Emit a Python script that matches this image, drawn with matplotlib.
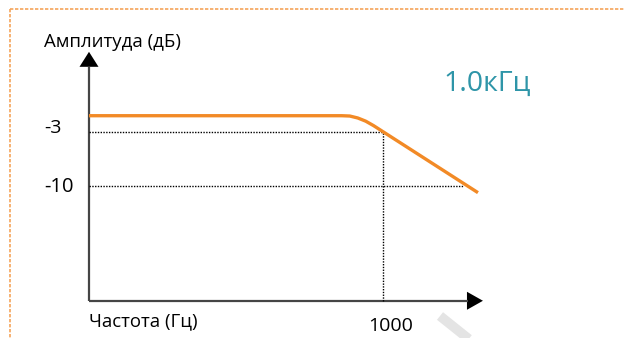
import matplotlib
matplotlib.use("Agg")
import matplotlib.pyplot as plt
from matplotlib.lines import Line2D
from matplotlib.patches import Polygon

plt.rcParams['font.family'] = ['Open Sans', 'DejaVu Sans']

# response curve (schematic low-pass, freq in Hz, gain in dB)
freq = [0, 860, 887, 914, 941, 968, 1000, 1323]
gain = [-0.94, -0.94, -0.98, -1.23, -1.64, -2.22, -3.0, -10.86]

ref_levels = [-3, -10]
ref_labels = ['-3', '-10']
cutoff = 1000
cutoff_label = '1000'
x_title = 'Частота (Гц)'
y_title = 'Амплитуда (дБ)'
badge = '1.0кГц'

# axis extents
y_floor = -24.8
y_top = 7.3
x_end = 1340
m10_end = 1272

W, H = 624, 338
fig = plt.figure(figsize=(W / 100, H / 100), dpi=100)
ax = fig.add_axes([0, 0, 1, 1])
ax.set_xlim(-302.7, 1819.7)
ax.set_ylim(-29.6, 13.98)
ax.axis('off')

# pixel -> data sizes
px_x = (1819.7 + 302.7) / W
px_y = (13.98 + 29.6) / H

axis_col = '#454545'
# axes lines
ax.plot([0, 0], [y_floor, y_top - 15 * px_y], color=axis_col, lw=1.6, solid_capstyle='butt')
ax.plot([0, x_end - 15 * px_x], [y_floor, y_floor], color=axis_col, lw=1.6, solid_capstyle='butt')
# arrowheads
ax.add_patch(Polygon([(0, y_top), (-9.5 * px_x, y_top - 15 * px_y), (9.5 * px_x, y_top - 15 * px_y)],
                     closed=True, color='black', lw=0))
ax.add_patch(Polygon([(x_end, y_floor), (x_end - 16 * px_x, y_floor + 9 * px_y),
                      (x_end - 16 * px_x, y_floor - 9 * px_y)], closed=True, color='black', lw=0))

# dotted guides
dot = (0, (1, 1))
ax.plot([0, cutoff], [ref_levels[0]] * 2, color='black', lw=1.0, ls=dot)
ax.plot([0, m10_end], [ref_levels[1]] * 2, color='black', lw=1.0, ls=dot)
ax.plot([cutoff, cutoff], [y_floor, ref_levels[0]], color='black', lw=1.0, ls=dot)

# curve
ax.plot(freq, gain, color='#F28A26', lw=2.4, solid_capstyle='butt', solid_joinstyle='round')

# labels
lx = -45 * px_x
ax.text(lx, -3.2, ref_labels[0], fontsize=14, ha='left', va='baseline')
ax.text(lx, -10.73, ref_labels[1], fontsize=14.5, ha='left', va='baseline')
ax.text(1025, -28.65, cutoff_label, fontsize=14, ha='center', va='baseline')
ax.text(lx, 7.96, y_title, fontsize=13.4, ha='left', va='baseline')
ax.text(0, -28.14, x_title, fontsize=13.4, ha='left', va='baseline')
ax.text(1204, 2.25, badge, fontsize=20.5, color='#2E95A8', ha='left', va='baseline')

# frame (dotted orange) and watermark stroke
fig.add_artist(Line2D([9.5 / W, 9.5 / W], [1 - 9 / H, 0], color='#F5A45A', lw=1.2,
                      ls=(0, (2, 1)), transform=fig.transFigure))
fig.add_artist(Line2D([9.5 / W, 1], [1 - 9 / H, 1 - 9 / H], color='#F5A45A', lw=1.2,
                      ls=(0, (2, 1)), transform=fig.transFigure))
fig.add_artist(Line2D([440 / W, 470 / W], [1 - 316 / H, 1 - 340 / H], color='#E4E4E4', lw=7,
                      solid_capstyle='butt', transform=fig.transFigure, zorder=0))

fig.savefig('out.png', dpi=100)
